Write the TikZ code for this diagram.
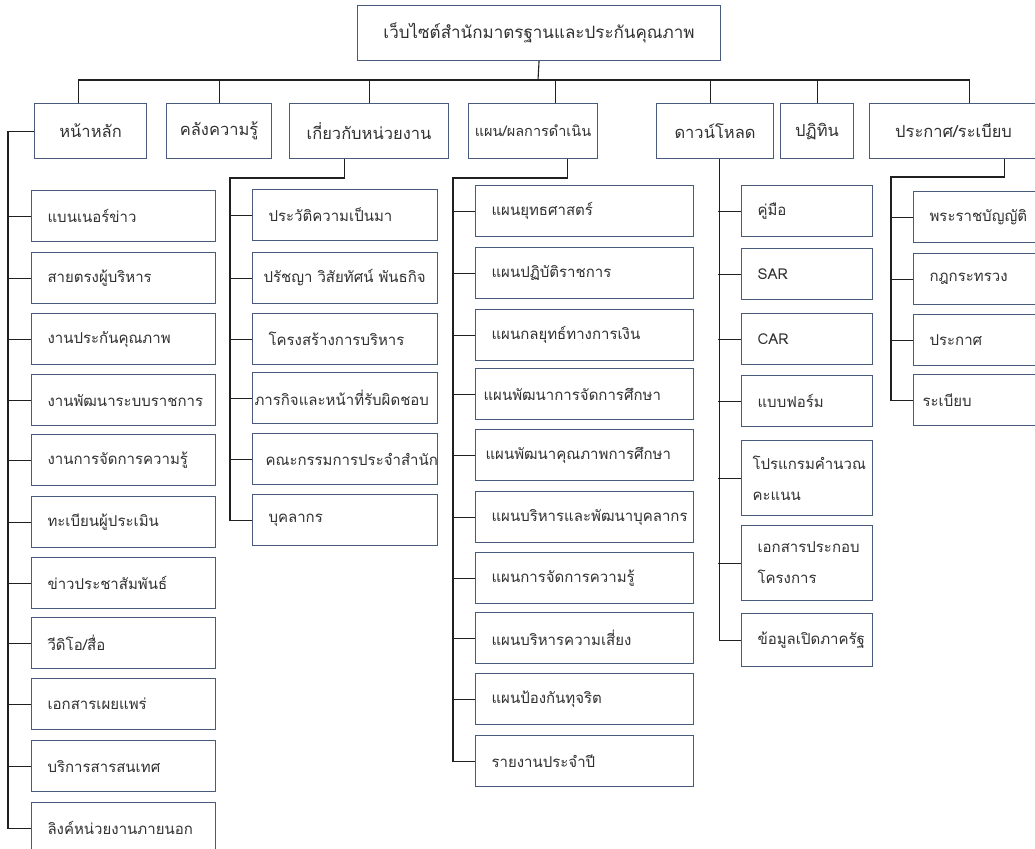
\documentclass[tikz,border=0pt]{standalone}
\usepackage{fontspec}
\usepackage{xcolor}
\usepackage{tikz}
\newfontfamily\thaifont[Script=Thai]{Loma}
\definecolor{boxblue}{HTML}{4A5A7C}
\definecolor{txtgray}{HTML}{303030}
\definecolor{linegray}{HTML}{202020}
\tikzset{
  box/.style={draw=boxblue, line width=1.1pt, text=txtgray, inner sep=0pt,
    font=\thaifont\fontsize{15}{31}\selectfont},
  topbox/.style={box, anchor=north west, minimum height=55, minimum width=#1,
    font=\thaifont\fontsize{16.5}{31}\selectfont},
  itembox/.style={box, anchor=north west, minimum height=51, text width=#1, align=left, inner xsep=16},
  link/.style={draw=linegray, line width=1.1pt}
}
\begin{document}
\begin{tikzpicture}[x=1pt, y=-1pt]
        \useasboundingbox (0,0) rectangle (1035,848);

        \node[topbox=363, font=\thaifont\fontsize{17}{31}\selectfont] (site) at (357,5) {เว็บไซต์สำนักมาตรฐานและประกันคุณภาพ};

        \node[topbox=112] (home) at (34,103) {หน้าหลัก};
        \node[topbox=105] (know) at (166,103) {คลังความรู้};
        \node[topbox=159] (about) at (289,103) {เกี่ยวกับหน่วยงาน};
        \node[topbox=129, font=\thaifont\fontsize{14.5}{31}\selectfont] (plan) at (468,103) {แผน/ผลการดำเนิน};
        \node[topbox=117] (down) at (656,103) {ดาวน์โหลด};
        \node[topbox=73] (cal) at (780,103) {ปฏิทิน};
        \node[topbox=168] (law) at (869,103) {ประกาศ/ระเบียบ};

        \coordinate (bus) at (538,80);
        \draw[link] (site.south) -- (bus);
        \draw[link] ([xshift=-12]home.north) |- (bus) -| ([xshift=16]law.north);
        \draw[link] (know.north) -- (know.north |- bus);
        \draw[link] (about.north) -- (about.north |- bus);
        \draw[link] ([xshift=22]plan.north) -- ([xshift=22]plan.north |- bus);
        \draw[link] ([xshift=-5]down.north) -- ([xshift=-5]down.north |- bus);
        \draw[link] (cal.north) -- (cal.north |- bus);

        \node[itembox=152] (h1) at (31,190) {แบนเนอร์ข่าว};
        \node[itembox=152] (h2) at (31,252) {สายตรงผู้บริหาร};
        \node[itembox=152] (h3) at (31,313) {งานประกันคุณภาพ};
        \node[itembox=152] (h4) at (31,374) {งานพัฒนาระบบราชการ};
        \node[itembox=152] (h5) at (31,434) {งานการจัดการความรู้};
        \node[itembox=152] (h6) at (31,496) {ทะเบียนผู้ประเมิน};
        \node[itembox=152] (h7) at (31,557) {ข่าวประชาสัมพันธ์};
        \node[itembox=152] (h8) at (31,617) {วีดิโอ/สื่อ};
        \node[itembox=152] (h9) at (31,678) {เอกสารเผยแพร่};
        \node[itembox=152] (h10) at (31,740) {บริการสารสนเทศ};
        \node[itembox=152] (h11) at (31,802) {ลิงค์หน่วยงานภายนอก};

        \coordinate (homespine) at (8,130);
        \draw[link] (home.west) -- (home.west -| homespine) |- (h11.west);
        \draw[link] (h1.west) -- (h1.west -| homespine);
        \draw[link] (h2.west) -- (h2.west -| homespine);
        \draw[link] (h3.west) -- (h3.west -| homespine);
        \draw[link] (h4.west) -- (h4.west -| homespine);
        \draw[link] (h5.west) -- (h5.west -| homespine);
        \draw[link] (h6.west) -- (h6.west -| homespine);
        \draw[link] (h7.west) -- (h7.west -| homespine);
        \draw[link] (h8.west) -- (h8.west -| homespine);
        \draw[link] (h9.west) -- (h9.west -| homespine);
        \draw[link] (h10.west) -- (h10.west -| homespine);

        \node[itembox=153] (a1) at (252,189) {ประวัติความเป็นมา};
        \node[itembox=163, inner xsep=11] (a2) at (252,252) {ปรัชญา~วิสัยทัศน์~พันธกิจ};
        \node[itembox=153] (a3) at (252,313) {โครงสร้างการบริหาร};
        \node[itembox=181, inner xsep=2] (a4) at (252,372) {ภารกิจและหน้าที่รับผิดชอบ};
        \node[itembox=159, inner xsep=13] (a5) at (252,433) {คณะกรรมการประจำสำนัก};
        \node[itembox=153] (a6) at (252,494) {บุคลากร};

        \coordinate (aboutspine) at (230,178);
        \draw[link] ([xshift=-25]about.south) |- (aboutspine) |- (a6.west);
        \draw[link] (a1.west) -- (a1.west -| aboutspine);
        \draw[link] (a2.west) -- (a2.west -| aboutspine);
        \draw[link] (a3.west) -- (a3.west -| aboutspine);
        \draw[link] (a4.west) -- (a4.west -| aboutspine);
        \draw[link] (a5.west) -- (a5.west -| aboutspine);

        \node[itembox=186] (p1) at (475,185) {แผนยุทธศาสตร์};
        \node[itembox=186] (p2) at (475,247) {แผนปฏิบัติราชการ};
        \node[itembox=186] (p3) at (475,309) {แผนกลยุทธ์ทางการเงิน};
        \node[itembox=202, inner xsep=8] (p4) at (475,368) {แผนพัฒนาการจัดการศึกษา};
        \node[itembox=198, inner xsep=10] (p5) at (475,429) {แผนพัฒนาคุณภาพการศึกษา};
        \node[itembox=186] (p6) at (475,491) {แผนบริหารและพัฒนาบุคลากร};
        \node[itembox=186] (p7) at (475,552) {แผนการจัดการความรู้};
        \node[itembox=186] (p8) at (475,612) {แผนบริหารความเสี่ยง};
        \node[itembox=186] (p9) at (475,673) {แผนป้องกันทุจริต};
        \node[itembox=186] (p10) at (475,735) {รายงานประจำปี};

        \coordinate (planspine) at (453,178);
        \draw[link] ([xshift=34]plan.south) |- (planspine) |- (p10.west);
        \draw[link] (p1.west) -- (p1.west -| planspine);
        \draw[link] (p2.west) -- (p2.west -| planspine);
        \draw[link] (p3.west) -- (p3.west -| planspine);
        \draw[link] (p4.west) -- (p4.west -| planspine);
        \draw[link] (p5.west) -- (p5.west -| planspine);
        \draw[link] (p6.west) -- (p6.west -| planspine);
        \draw[link] (p7.west) -- (p7.west -| planspine);
        \draw[link] (p8.west) -- (p8.west -| planspine);
        \draw[link] (p9.west) -- (p9.west -| planspine);

        \node[itembox=99] (d1) at (741,185) {คู่มือ};
        \node[itembox=99] (d2) at (741,248) {SAR};
        \node[itembox=99] (d3) at (741,313) {CAR};
        \node[itembox=99] (d4) at (741,375) {แบบฟอร์ม};
        \node[itembox=109, inner xsep=11, minimum height=75] (d5) at (741,440) {โปรแกรมคำนวณ\\คะแนน};
        \node[itembox=99, minimum height=75] (d6) at (741,525) {เอกสารประกอบ\\โครงการ};
        \node[itembox=99, minimum height=53] (d7) at (741,613) {ข้อมูลเปิดภาครัฐ};

        \coordinate (downspine) at (718,158);
        \draw[link] ([xshift=4]down.south) |- (d7.west);
        \draw[link] (d1.west) -- (d1.west -| downspine);
        \draw[link] (d2.west) -- (d2.west -| downspine);
        \draw[link] (d3.west) -- (d3.west -| downspine);
        \draw[link] (d4.west) -- (d4.west -| downspine);
        \draw[link] (d5.west) -- (d5.west -| downspine);
        \draw[link] (d6.west) -- (d6.west -| downspine);

        \node[itembox=110] (r1) at (913,191) {พระราชบัญญัติ};
        \node[itembox=110] (r2) at (913,253) {กฎกระทรวง};
        \node[itembox=110] (r3) at (913,314) {ประกาศ};
        \node[itembox=120, inner xsep=9] (r4) at (913,374) {ระเบียบ};

        \coordinate (lawspine) at (891,177);
        \draw[link] ([xshift=51]law.south) |- (lawspine) |- (r4.west);
        \draw[link] (r1.west) -- (r1.west -| lawspine);
        \draw[link] (r2.west) -- (r2.west -| lawspine);
        \draw[link] (r3.west) -- (r3.west -| lawspine);
    \end{tikzpicture}
\end{document}
